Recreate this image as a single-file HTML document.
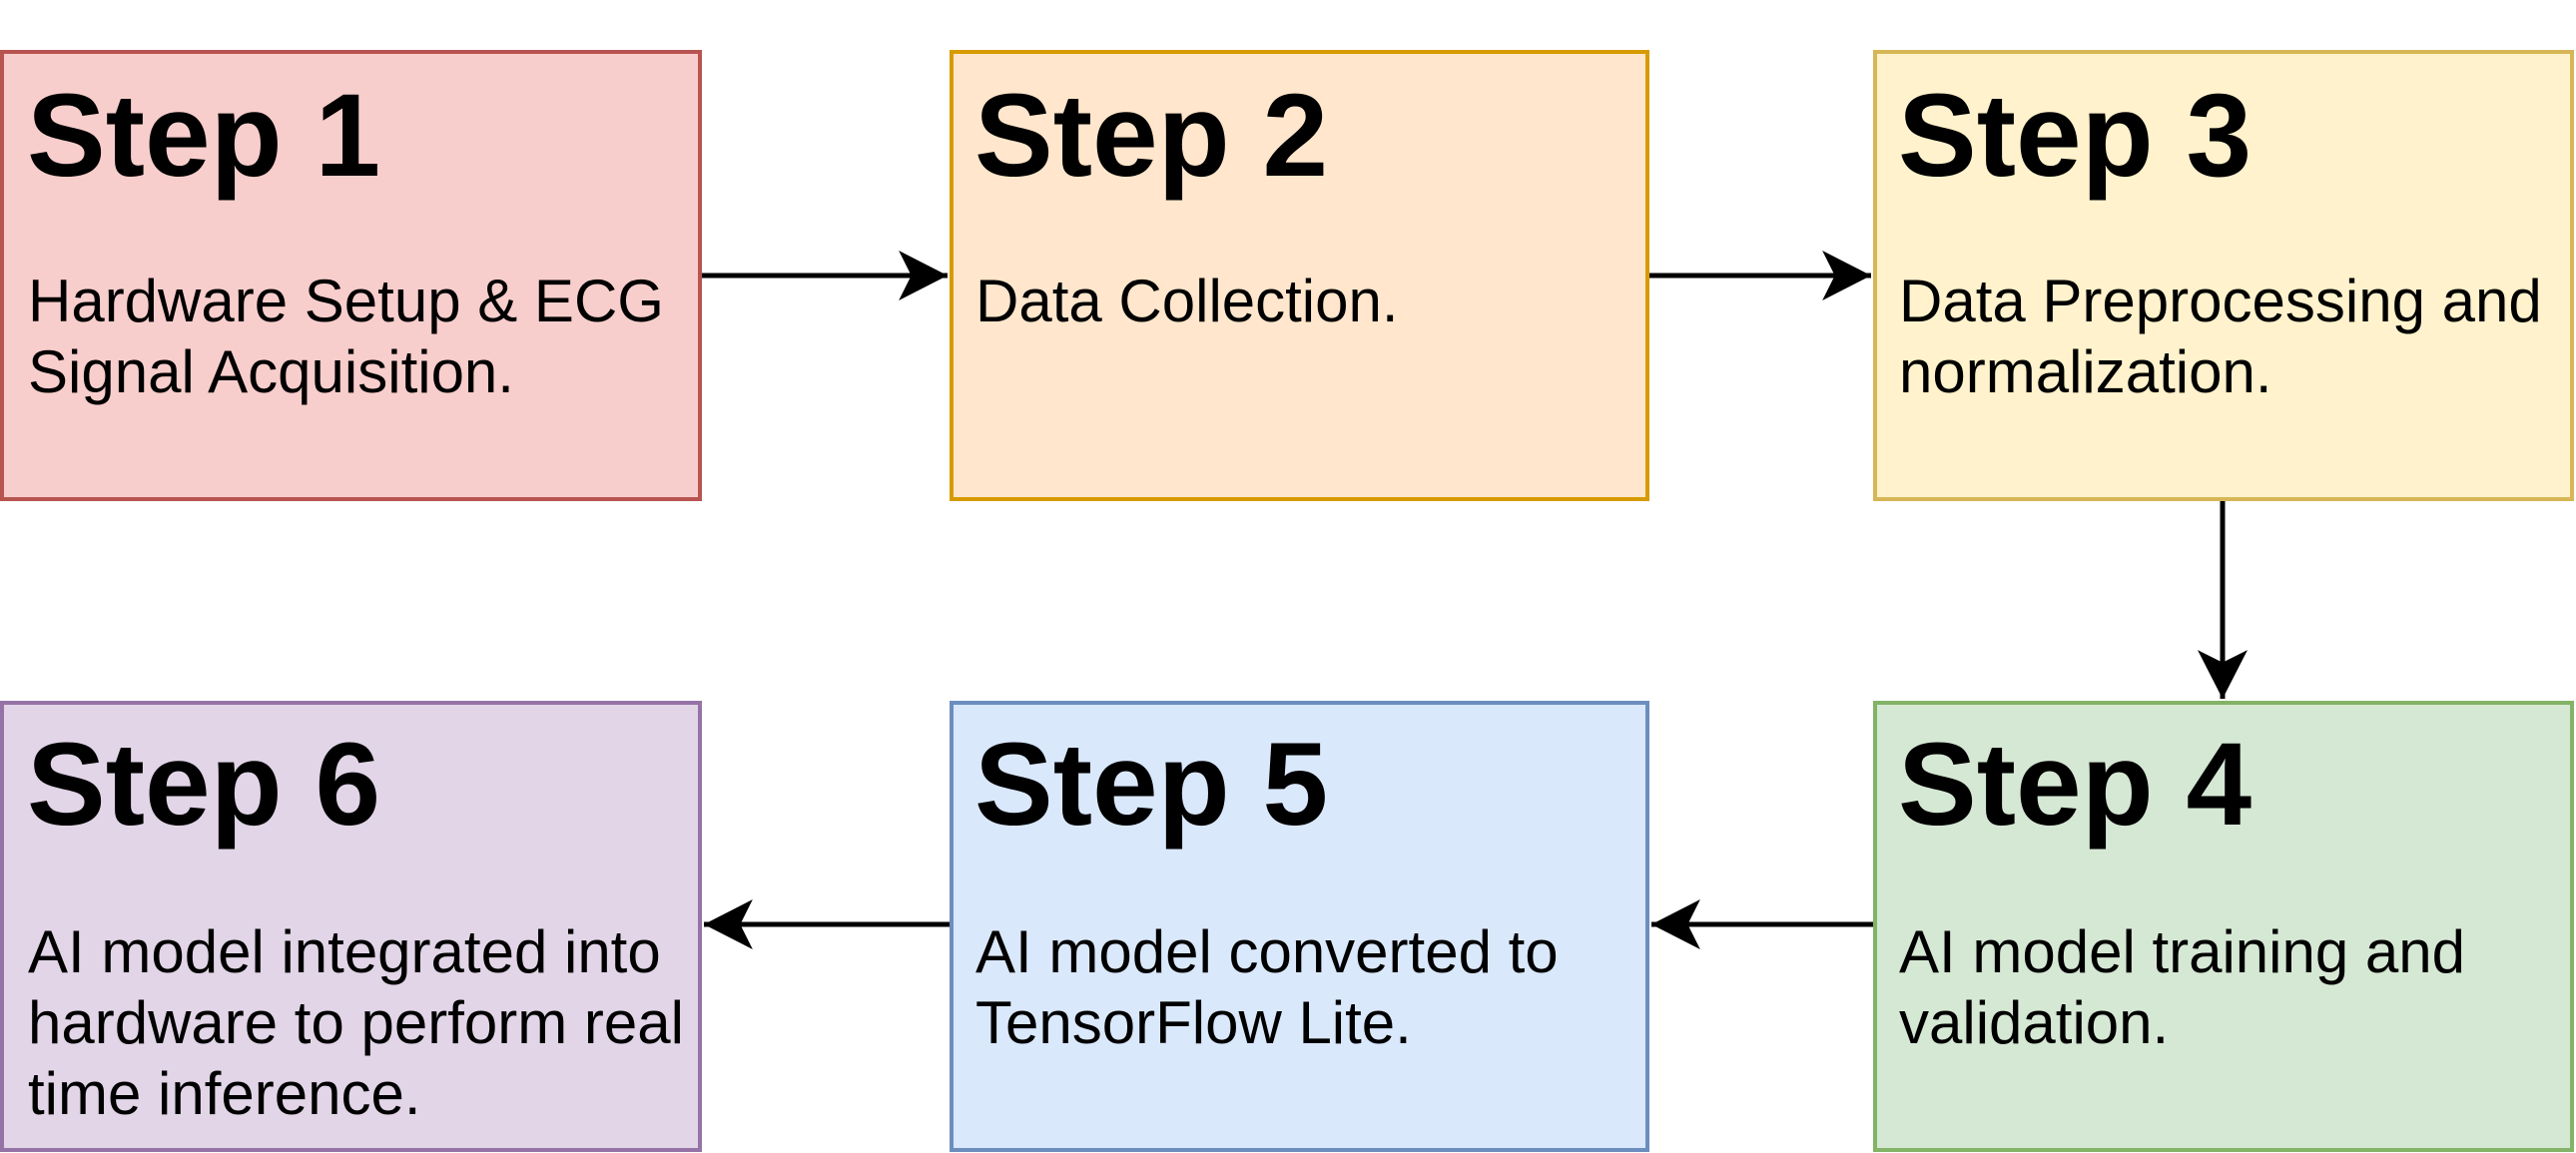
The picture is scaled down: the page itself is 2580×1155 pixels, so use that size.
<!DOCTYPE html>
<html><head><meta charset="utf-8"><style>html,body{margin:0;padding:0;background:#fff}svg{display:block}</style></head>
<body>
<svg width="2580" height="1155" viewBox="0 0 2580 1155" xmlns="http://www.w3.org/2000/svg" font-family="'Liberation Sans', Arial, sans-serif">
<defs>
<marker id="a" markerUnits="userSpaceOnUse" markerWidth="50" markerHeight="50" viewBox="0 0 44 44" refX="43" refY="22" orient="auto">
<path d="M0,0 L43,22 L0,44 L11,22 Z" fill="#000"/>
</marker>
</defs>
<g stroke-width="4">
<rect x="2" y="52" width="699" height="448" fill="#f8cecc" stroke="#b85450"/>
<rect x="953" y="52" width="697" height="448" fill="#ffe6cc" stroke="#d79b00"/>
<rect x="1878" y="52" width="698" height="448" fill="#fff2cc" stroke="#d6b656"/>
<rect x="1878" y="704" width="698" height="448" fill="#d5e8d4" stroke="#82b366"/>
<rect x="953" y="704" width="697" height="448" fill="#dae8fc" stroke="#6c8ebf"/>
<rect x="2" y="704" width="699" height="448" fill="#e1d5e7" stroke="#9673a6"/>
</g>
<g stroke="#000" stroke-width="5" fill="none">
<line x1="703" y1="276" x2="949" y2="276" marker-end="url(#a)"/>
<line x1="1652" y1="276" x2="1874" y2="276" marker-end="url(#a)"/>
<line x1="2226" y1="502" x2="2226" y2="700" marker-end="url(#a)"/>
<line x1="1876" y1="926" x2="1654" y2="926" marker-end="url(#a)"/>
<line x1="951" y1="926" x2="705" y2="926" marker-end="url(#a)"/>
</g>
<g font-weight="bold" font-size="118" fill="#000">
<text x="27" y="176">Step 1</text>
<text x="976" y="176">Step 2</text>
<text x="1901" y="176">Step 3</text>
<text x="1901" y="826">Step 4</text>
<text x="976" y="826">Step 5</text>
<text x="27" y="826">Step 6</text>
</g>
<g font-size="60" fill="#000">
<text x="28" y="322">Hardware Setup &amp; ECG</text>
<text x="28" y="393">Signal Acquisition.</text>
<text x="977" y="322">Data Collection.</text>
<text x="1902" y="322">Data Preprocessing and</text>
<text x="1902" y="393">normalization.</text>
<text x="1902" y="974">AI model training and</text>
<text x="1902" y="1045">validation.</text>
<text x="977" y="974">AI model converted to</text>
<text x="977" y="1045">TensorFlow Lite.</text>
<text x="28" y="974">AI model integrated into</text>
<text x="28" y="1045">hardware to perform real</text>
<text x="28" y="1116">time inference.</text>
</g>
</svg>
</body></html>
